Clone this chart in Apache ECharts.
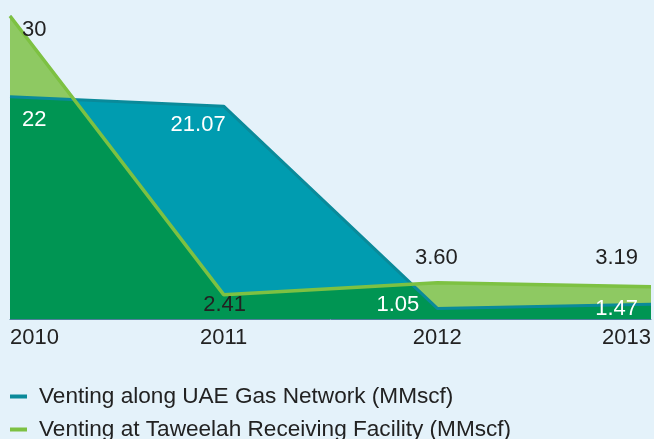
<!DOCTYPE html>
<html>
<head>
<meta charset="utf-8">
<script src="https://cdn.jsdelivr.net/npm/echarts@6/dist/echarts.min.js"></script>
<style>
html,body{margin:0;padding:0;background:#e4f2fa;}
#c{width:654px;height:439px;}
</style>
</head>
<body>
<div id="c"></div>
<script>
const years = [2010, 2011, 2012, 2013];
const networkName = 'Venting along UAE Gas Network (MMscf)';
const taweelahName = 'Venting at Taweelah Receiving Facility (MMscf)';
const network = [22, 21.07, 1.05, 1.47];
const taweelah = [30, 2.41, 3.60, 3.19];
const networkLabels = ['22', '21.07', '1.05', '1.47'];
const taweelahLabels = ['30', '2.41', '3.60', '3.19'];

const C_TEAL = '#009cb0', C_TEAL_LINE = '#0a8a9a';
const C_LG = '#8ec962', C_LG_LINE = '#7dc142';
const C_DG = '#009553';
const FONT = 'Liberation Sans, Arial, Helvetica, sans-serif';

// layout for labels (not data)
const netLabelLayout = [
  {align:'left', offset:[12,23]},
  {align:'right', offset:[2,19]},
  {align:'right', offset:[-18,-3]},
  {align:'right', offset:[-13,5]}
];
const tawLabelLayout = [
  {align:'left', offset:[12,14]},
  {align:'center', offset:[1,10]},
  {align:'center', offset:[-1,-25]},
  {align:'right', offset:[-13,-29]}
];

function pairs(vals){ return years.map((y,i)=>[y, vals[i]]); }

// overlap region = min of the two series, including crossing points
function overlap(){
  const out = [];
  for (let i=0;i<years.length;i++){
    out.push([years[i], Math.min(network[i], taweelah[i])]);
    if (i < years.length-1){
      const d0 = network[i]-taweelah[i], d1 = network[i+1]-taweelah[i+1];
      if (d0*d1 < 0){
        const f = d0/(d0-d1);
        out.push([years[i] + f*(years[i+1]-years[i]), network[i] + f*(network[i+1]-network[i])]);
      }
    }
  }
  return out;
}

function labelled(vals, texts, layout, color){
  return years.map((y,i)=>({
    value:[y, vals[i]],
    label:{
      show:true, position:'inside', formatter: texts[i],
      align: layout[i].align, verticalAlign:'middle', offset: layout[i].offset,
      color: color, fontSize:22, fontFamily: FONT
    }
  }));
}

const legendBase = {
  orient:'horizontal', left:10, padding:0,
  icon:'rect', itemWidth:17, itemHeight:4, itemGap:10,
  textStyle:{color:'#222', fontSize:22.6, fontFamily: FONT, padding:[0,0,0,7]}
};

const chart = echarts.init(document.getElementById('c'), null, {renderer:'canvas'});
chart.setOption({
  backgroundColor:'#e4f2fa',
  animation:false,
  grid:{left:10, right:1, top:16, bottom:120},
  xAxis:{
    type:'value', min:2010, max:2013, interval:1,
    axisLine:{show:true, lineStyle:{color:'#4f7f9c', width:1}},
    axisTick:{show:false}, splitLine:{show:false},
    axisLabel:{
      formatter: v => String(v), color:'#222', fontSize:22, fontFamily: FONT,
      margin:8, alignMinLabel:'left', alignMaxLabel:'right'
    }
  },
  yAxis:{
    type:'value', min:0, max:30,
    axisLine:{show:true, lineStyle:{color:'#4a6f9a', width:1}},
    axisTick:{show:false}, axisLabel:{show:false}, splitLine:{show:false}
  },
  legend:[
    Object.assign({}, legendBase, {data:[networkName], top:385}),
    Object.assign({}, legendBase, {data:[taweelahName], top:418})
  ],
  series:[
    {name:'fillTaweelah', type:'line', data:pairs(taweelah), symbol:'none',
     lineStyle:{width:0}, areaStyle:{color:C_LG, opacity:1}, z:1, silent:true},
    {name:'fillNetwork', type:'line', data:pairs(network), symbol:'none',
     lineStyle:{width:0}, areaStyle:{color:C_TEAL, opacity:1}, z:2, silent:true},
    {name:'overlap', type:'line', data:overlap(), symbol:'none',
     lineStyle:{width:0}, areaStyle:{color:C_DG, opacity:1}, z:3, silent:true},
    {name:networkName, type:'line', color:C_TEAL_LINE,
     data:labelled(network, networkLabels, netLabelLayout, '#ffffff'),
     symbol:'circle', symbolSize:0, showSymbol:true,
     lineStyle:{color:C_TEAL_LINE, width:3}, z:4},
    {name:taweelahName, type:'line', color:C_LG_LINE,
     data:labelled(taweelah, taweelahLabels, tawLabelLayout, '#222222'),
     symbol:'circle', symbolSize:0, showSymbol:true,
     lineStyle:{color:C_LG_LINE, width:3.5}, z:5}
  ]
});
</script>
</body>
</html>
